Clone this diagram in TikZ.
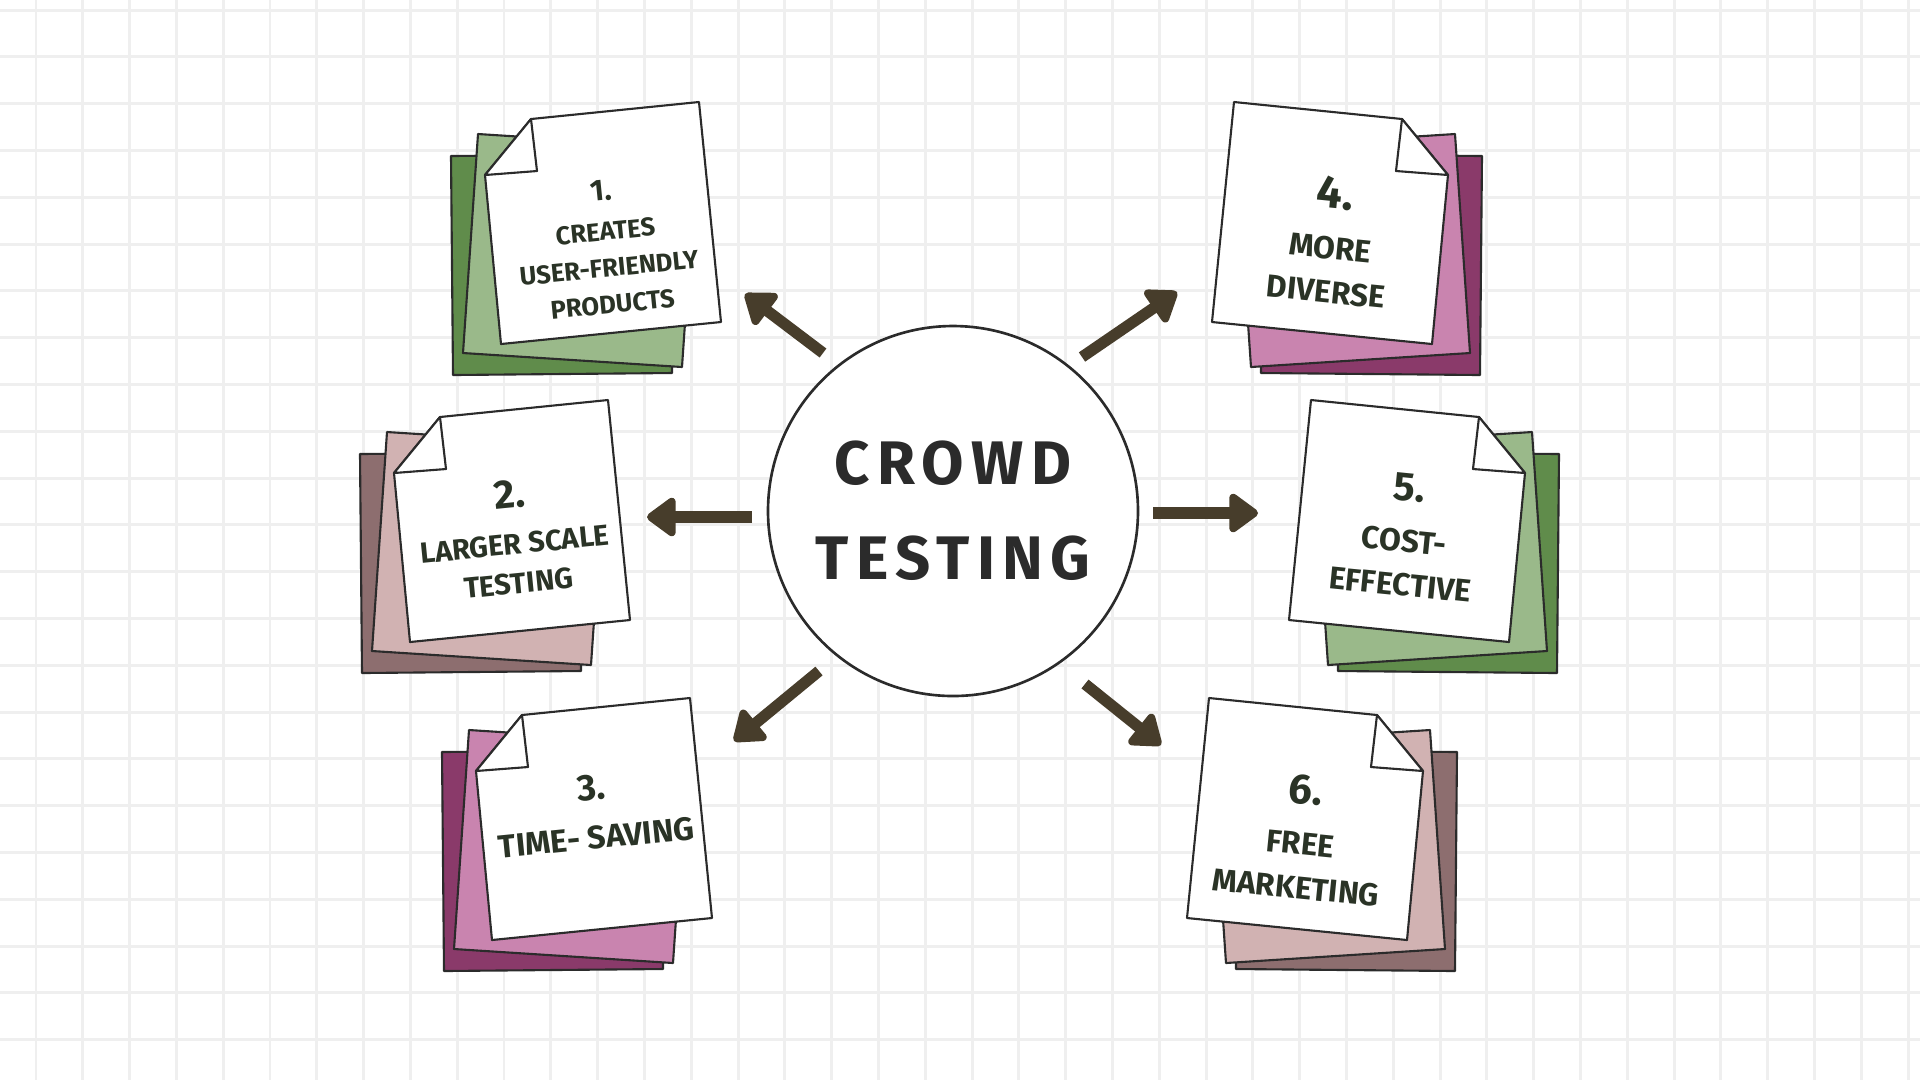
\documentclass[tikz,border=0pt]{standalone}
\usepackage{fontspec}
\setmainfont{Fira Sans}
\newfontfamily\titlefont[LetterSpace=12]{Fira Sans}
\usepackage {tikz}
\usetikzlibrary {positioning}
\usetikzlibrary{calc}
\usetikzlibrary{arrows.meta}
\definecolor{ink}{HTML}{2B2B2B}
\definecolor{noteink}{HTML}{2A3326}
\definecolor{arrowbrown}{HTML}{473D2B}
\definecolor{gridgray}{HTML}{EFEFEF}
\definecolor{greendark}{HTML}{608C4B}
\definecolor{greenlight}{HTML}{9AB98A}
\definecolor{plumdark}{HTML}{8A3A6A}
\definecolor{plumlight}{HTML}{C984AF}
\definecolor{rosedark}{HTML}{8D6E6F}
\definecolor{roselight}{HTML}{D1B2B2}
\newcommand{\num}[2]{{\fontsize{#1}{#1}\selectfont #2}}
\newcommand{\notestack}[2]{
  \filldraw[sheet, fill=#1] (451,156) -- (670,154) -- (672,373) -- (453,375) -- cycle;
  \filldraw[sheet, fill=#2] (478,134) -- (697,148) -- (682,367) -- (463,353) -- cycle;
  \filldraw[sheet, fill=white] (485,175) -- (531,119) -- (699,102) -- (721,322) -- (501,344) -- cycle;
  \filldraw[sheet, fill=white] (485,175) -- (531,119) -- (537,171) -- cycle;
}

\begin{document}
\begin{tikzpicture}[x=0.1mm, y=-0.1mm,
    sheet/.style={draw=ink, line width=0.6pt, line join=round},
    gridline/.style={draw=gridgray, line width=0.85pt},
    notetext/.style={align=center, text=noteink, inner sep=0pt, font=\bfseries\fontsize{8.3}{11.2}\selectfont},
    bignote/.style={notetext, font=\bfseries\fontsize{9}{12.5}\selectfont},
    hub/.style={circle, draw=ink, fill=white, line width=0.75pt, minimum size=37mm, inner sep=0pt,
      align=center, text=ink, font=\titlefont\bfseries\fontsize{17.5}{27}\selectfont},
    arrow/.style={draw=arrowbrown, line width=3.2pt, -{Triangle[length=9pt, width=12.5pt, round]}}]
    \useasboundingbox (0,0) rectangle (1920,1080);
    \fill[white] (0,0) rectangle (1920,1080);
    \foreach \i in {0,...,40} \draw[gridline] ({36+46.8*\i},0) -- ({36+46.8*\i},1080);
    \foreach \j in {0,...,22} \draw[gridline] (0,{10+46.8*\j}) -- (1920,{10+46.8*\j});

    \begin{scope} \notestack{greendark}{greenlight} \end{scope}
    \begin{scope}[shift={(-91,298)}] \notestack{rosedark}{roselight} \end{scope}
    \begin{scope}[shift={(-9,596)}] \notestack{plumdark}{plumlight} \end{scope}
    \begin{scope}[shift={(1933,0)}, xscale=-1] \notestack{plumdark}{plumlight} \end{scope}
    \begin{scope}[shift={(2010,298)}, xscale=-1] \notestack{greendark}{greenlight} \end{scope}
    \begin{scope}[shift={(1908,596)}, xscale=-1] \notestack{rosedark}{roselight} \end{scope}

    \node[notetext, rotate=5.7, font=\bfseries\fontsize{7.3}{10.4}\selectfont] (n1) at (607,247)
      {\num{8.5}{1.}\\[1pt] CREATES\\ USER-FRIENDLY\\ PRODUCTS};
    \node[notetext, rotate=5.7] (n2) at (514,537) {\num{11.5}{2.}\\[2pt] LARGER SCALE\\ TESTING};
    \node[notetext, rotate=5.7, font=\bfseries\fontsize{9.2}{12}\selectfont] (n3) at (594,812)
      {\num{10.5}{3.}\\[2pt] TIME- SAVING};
    \node[bignote, rotate=-5.7] (n4) at (1331,240) {\num{13}{4.}\\[2pt] MORE\\ DIVERSE};
    \node[bignote, rotate=-5.7] (n5) at (1405,535) {\num{11.5}{5.}\\[2pt] COST-\\ EFFECTIVE};
    \node[bignote, rotate=-5.7] (n6) at (1301,837) {\num{12}{6.}\\[2pt] FREE\\ MARKETING};

    \node[hub] (crowd) at (953,511) {CROWD\\TESTING};

    \coordinate (a1) at (823,353); \coordinate (b1) at (745,294);
    \coordinate (a2) at (752,517); \coordinate (b2) at (647,517);
    \coordinate (a3) at (819,671); \coordinate (b3) at (734,741);
    \coordinate (a4) at (1082,357); \coordinate (b4) at (1177,292);
    \coordinate (a5) at (1153,513); \coordinate (b5) at (1258,513);
    \coordinate (a6) at (1085,684); \coordinate (b6) at (1161,745);
    \foreach \i in {1,...,6} \draw[arrow] (a\i) -- (b\i);
\end{tikzpicture}
\end{document}
